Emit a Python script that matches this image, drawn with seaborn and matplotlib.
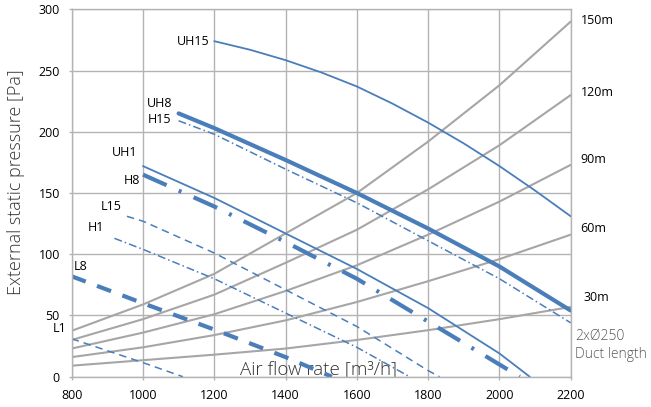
import matplotlib
matplotlib.use("Agg")
import matplotlib.pyplot as plt
import seaborn as sns
import pandas as pd

# duct system curves (2xØ250), pressure read at each 200 m3/h
duct_flow = [800, 1000, 1200, 1400, 1600, 1800, 2000, 2200]
duct_150 = [37.5, 59, 84, 117, 150, 192, 238, 290]
duct_120 = [30, 47, 67, 93, 120, 153, 189, 230]
duct_90 = [23, 36, 51, 70, 91, 116, 143, 173]
duct_60 = [16, 24, 34, 46, 61, 78, 96, 116]
duct_30 = [9, 13.5, 18, 23, 30, 38, 47, 57]
duct_names = ["150m", "120m", "90m", "60m", "30m"]

# fan curves
uh15_flow = [1200, 1300, 1400, 1500, 1600, 1700, 1800, 1900, 2000, 2100, 2200]
uh15 = [274, 267, 258.5, 248.5, 237, 223, 207.5, 190.5, 172, 152, 131]
uh8_flow = [1100, 1200, 1400, 1600, 1800, 2000, 2200]
uh8 = [215, 203, 177, 150, 121, 90, 54]
h15_flow = [1100, 1200, 1400, 1600, 1800, 2000, 2200]
h15 = [209, 198, 169.5, 142, 111, 80, 44]
uh1_flow = [1000, 1200, 1400, 1600, 1800, 2000, 2085]
uh1 = [172, 146, 117, 88, 56, 19, 0]
h8_flow = [1000, 1200, 1400, 1600, 1800, 2000, 2057]
h8 = [165, 139, 110, 80, 45, 10, 0]
l15_flow = [955, 1000, 1200, 1400, 1600, 1800, 1832]
l15 = [131, 127, 101, 71, 41, 5, 0]
h1_flow = [920, 1000, 1200, 1400, 1600, 1748]
h1 = [113, 104, 80, 52, 24, 0]
l8_flow = [800, 1000, 1200, 1400, 1530]
l8 = [82, 60, 38.5, 16, 0]
l1_flow = [800, 1000, 1112]
l1 = [31, 11.5, 0]

x_ticks = [800, 1000, 1200, 1400, 1600, 1800, 2000, 2200]
y_ticks = [0, 50, 100, 150, 200, 250, 300]

sns.set_theme(style="white")
plt.rcParams["font.family"] = ["Open Sans", "DejaVu Sans"]

blue = "#4a7ebb"
grey = "#a6a6a6"
grid_col = "#b3b3b3"

fig = plt.figure(figsize=(6.51, 4.07), dpi=100)
ax = fig.add_axes([0.1101, 0.0744, 0.7666, 0.9027])

# gray duct curves
for p in [duct_150, duct_120, duct_90, duct_60, duct_30]:
    sns.lineplot(x=duct_flow, y=p, ax=ax, color=grey, linewidth=1.5, estimator=None)

thin_dashdot = (0, (5.2, 2, 1, 2))
thin_dash = (0, (4.9, 3.3))
thick_dashdot = (0, (6.2, 3.2, 0.7, 3.2))
thick_dash = (0, (3.6, 2.9))

fans = [
    (uh15_flow, uh15, 1.3, "-"),
    (uh8_flow, uh8, 3.0, "-"),
    (h15_flow, h15, 1.1, thin_dashdot),
    (uh1_flow, uh1, 1.3, "-"),
    (h8_flow, h8, 3.0, thick_dashdot),
    (l15_flow, l15, 1.1, thin_dash),
    (h1_flow, h1, 1.1, thin_dashdot),
    (l8_flow, l8, 3.0, thick_dash),
    (l1_flow, l1, 1.1, thin_dash),
]
for f, p, lw, ls in fans:
    sns.lineplot(x=f, y=p, ax=ax, color=blue, linewidth=lw, linestyle=ls,
                 estimator=None)

ax.set_xlim(800, 2200)
ax.set_ylim(0, 300)
ax.set_xticks(x_ticks)
ax.set_yticks(y_ticks)
ax.grid(True, color=grid_col, linewidth=1.0)
for s in ax.spines.values():
    s.set_color(grid_col)
    s.set_linewidth(1.0)
ax.tick_params(axis="both", length=2.5, width=1.0, color=grid_col,
               labelsize=9, labelcolor="black", direction="out",
               bottom=True, left=True)
ax.tick_params(axis="x", pad=6)
ax.tick_params(axis="y", pad=6)

ax.set_ylabel("External static pressure [Pa]", fontsize=13, fontweight="light",
              color="#333333")
ax.yaxis.set_label_coords(-0.093, 0.531)
ax.set_xlabel("Air flow rate [m³/h]", fontsize=13.5, fontweight="light",
              color="#333333", va="bottom")
ax.xaxis.set_label_coords(0.4936, -0.005)

# curve labels
fan_labels = [
    ("UH15", 1188, 274, "right"),
    ("UH8", 1083, 223, "right"),
    ("H15", 1080, 210, "right"),
    ("UH1", 984, 183, "right"),
    ("H8", 991, 160, "right"),
    ("L15", 940, 139, "right"),
    ("H1", 890, 122, "right"),
    ("L8", 806, 90, "left"),
    ("L1", 786, 39.5, "right"),
]
for name, fx, py, ha in fan_labels:
    ax.text(fx, py, name, fontsize=9, ha=ha, va="center", color="black",
            clip_on=False)

duct_label_y = [291, 232, 177, 121, 65]
for name, py in zip(duct_names, duct_label_y):
    ax.text(2228 if name != "30m" else 2235, py, name, fontsize=9,
            ha="left", va="center", color="black", clip_on=False)
ax.text(2213, 33, "2xØ250", fontsize=10, fontweight="light", color="#595959",
        ha="left", va="center", clip_on=False)
ax.text(2213, 18.5, "Duct length", fontsize=10, fontweight="light",
        color="#595959", ha="left", va="center", clip_on=False)

fig.savefig("out.png", dpi=100)
